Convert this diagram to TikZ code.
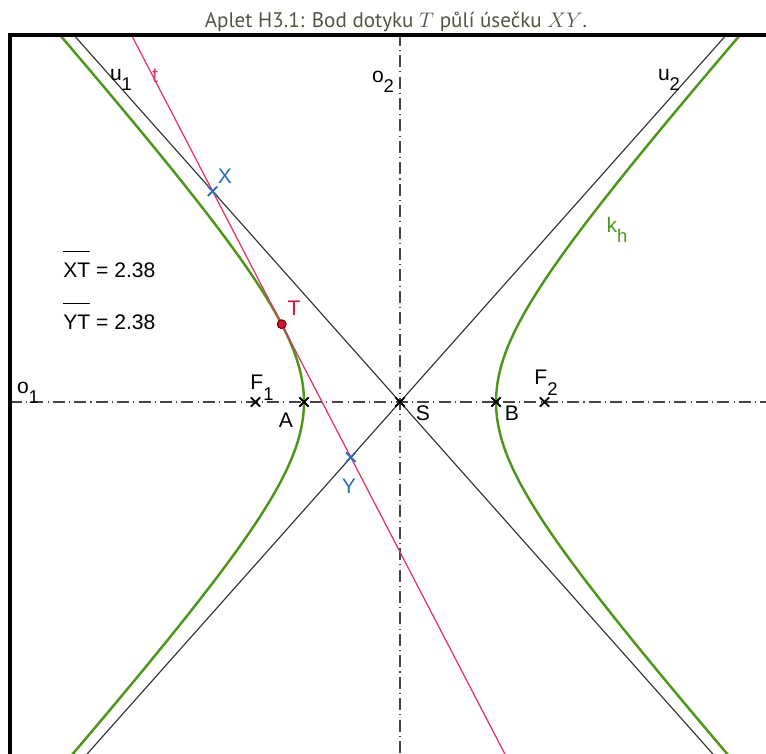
\documentclass[tikz,border=0pt]{standalone}
\usepackage{fontspec}
\setmainfont{Liberation Sans}
\newfontfamily\titlefont{PT Sans}
\usetikzlibrary{calc, shapes.misc}

\definecolor{hypgreen}{RGB}{77,150,26}
\definecolor{tanred}{RGB}{222,52,100}
\definecolor{ptred}{RGB}{214,16,56}
\definecolor{ptblue}{RGB}{40,110,190}
\definecolor{titlegray}{RGB}{84,84,68}
\definecolor{axisgray}{RGB}{70,70,70}

\newcommand{\lowidx}[1]{\raisebox{-0.5em}{\fontsize{10.5}{11}\selectfont #1}}

\begin{document}
\begin{tikzpicture}[
  x=0.02cm, y=0.02cm,
  lbl/.style={font=\fontsize{12}{14}\selectfont, inner sep=0pt},
  xmark/.style={cross out, draw=black, minimum size=4.4pt, inner sep=0pt, line width=0.85pt},
  bmark/.style={cross out, draw=ptblue, minimum size=4.4pt, inner sep=0pt, line width=0.85pt},
  tpoint/.style={circle, draw=red!45!black, fill=ptred, minimum size=5pt, inner sep=0pt, line width=0.6pt},
  axis/.style={draw=axisgray, line width=0.6pt, dash pattern=on 6.8pt off 2.4pt on 0.6pt off 2.4pt},
  asym/.style={draw=black!85, line width=0.6pt},
  hyp/.style={draw=hypgreen, line width=1.4pt},
  tline/.style={draw=tanred, line width=0.7pt}
]
  \useasboundingbox (-400,-351) rectangle (366,402);

  % titulek
  \node[anchor=base, text=titlegray, font=\titlefont\fontsize{12}{14}\selectfont, inner sep=0pt] (title) at (-4,374)
    {Aplet H3.1: Bod dotyku $T$ půlí úsečku $XY$.};

  % body
  \node[xmark] (S) at (0,0) {};
  \node[xmark] (A) at (-96,0) {};
  \node[xmark] (B) at (96,0) {};
  \node[xmark] (F1) at (-144.5,0) {};
  \node[xmark] (F2) at (144.5,0) {};
  \node[bmark] (X) at (-187.4,210.8) {};
  \node[bmark] (Y) at (-49.2,-55.3) {};

  \coordinate (o1a) at (-390,0);
  \coordinate (o1b) at (366,0);
  \coordinate (o2a) at (0,-351);
  \coordinate (o2b) at (0,365);
  \coordinate (u1a) at (-384,432);
  \coordinate (u1b) at (384,-432);
  \coordinate (u2a) at (-384,-432);
  \coordinate (u2b) at (384,432);

  \begin{scope}
    \clip (-388,-351) rectangle (366,365);
    % osy
    \draw[axis] (o1a) -- (o1b);
    \draw[axis] (o2a) -- (o2b);
    % asymptoty
    \draw[asym] (u1a) -- (S.center) -- (u1b);
    \draw[asym] (u2a) -- (S.center) -- (u2b);
    % hyperbola
    \draw[hyp] plot[domain=-2.1:2.1, samples=90, variable=\t] ({96*cosh(\t)}, {108*sinh(\t)});
    \draw[hyp] plot[domain=-2.1:2.1, samples=90, variable=\t] ({-96*cosh(\t)}, {108*sinh(\t)});
    % tecna
    \draw[tline] ($(X.center)!-0.6!(Y.center)$) -- (X.center) -- (Y.center) -- ($(Y.center)!-1.2!(X.center)$);
  \end{scope}

  % znovu body navrch
  \node[xmark] at (S) {};
  \node[xmark] at (A) {};
  \node[xmark] at (B) {};
  \node[xmark] at (F1) {};
  \node[xmark] at (F2) {};
  \node[bmark] at (X) {};
  \node[bmark] at (Y) {};
  \node[tpoint] (T) at (-118.3,77.8) {};

  % ramecek
  \draw[line width=2.3pt] (-390,-400) -- (-390,367) -- (420,367);

  % popisky
  \node[lbl] (lu1) at (-279,322) {u\lowidx{1}};
  \node[lbl, text=tanred] (lt) at (-245,326) {t};
  \node[lbl] (lo2) at (-17,320) {o\lowidx{2}};
  \node[lbl] (lu2) at (269,322) {u\lowidx{2}};
  \node[lbl, text=hypgreen] (lkh) at (217,172) {k\lowidx{h}};
  \node[lbl, text=ptblue] (lX) at (-175,226) {X};
  \node[lbl, text=ptred] (lT) at (-106,94) {T};
  \node[lbl] (lF1) at (-138,14) {F\lowidx{1}};
  \node[lbl] (lA) at (-114,-18) {A};
  \node[lbl, text=ptblue] (lY) at (-51,-84) {Y};
  \node[lbl] (lS) at (23,-11) {S};
  \node[lbl] (lB) at (112,-11) {B};
  \node[lbl] (lF2) at (146,19) {F\lowidx{2}};
  \node[lbl] (lo1) at (-372,9) {o\lowidx{1}};

  \node[lbl, anchor=base west] (dXT) at (-337,124) {$\overline{\mbox{\rule{0pt}{14pt}XT}}$ = 2.38};
  \node[lbl, anchor=base west] (dYT) at (-337,72) {$\overline{\mbox{\rule{0pt}{14pt}YT}}$ = 2.38};
\end{tikzpicture}
\end{document}
